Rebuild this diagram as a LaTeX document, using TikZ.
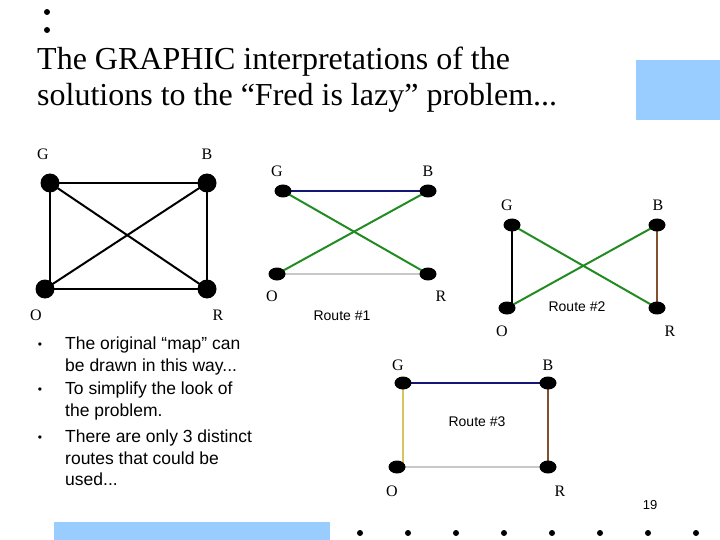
\documentclass[tikz,border=0pt]{standalone}
\usepackage{fontspec}
\setmainfont{Liberation Serif}
\setsansfont{Liberation Sans}
\usetikzlibrary{shapes.geometric}
\pgfdeclarelayer{edgelayer}
\pgfsetlayers{edgelayer,main}
\definecolor{slideblue}{RGB}{153,204,255}
\definecolor{navyedge}{RGB}{20,20,120}
\definecolor{greenedge}{RGB}{34,139,34}
\definecolor{grayedge}{RGB}{200,200,200}
\definecolor{brownedge}{RGB}{130,80,45}
\definecolor{yellowedge}{RGB}{215,195,95}
\tikzset{
  bigdot/.style={circle,fill=black,minimum size=19pt,inner sep=0pt},
  vdot/.style={ellipse,fill=black,minimum width=17pt,minimum height=13pt,inner sep=0pt},
  lbl/.style={font=\fontsize{16}{18}\selectfont},
  route/.style={font=\sffamily\fontsize{14}{16}\selectfont},
  edge/.style={line width=2pt},
  bul/.style={font=\sffamily\fontsize{17.5}{21.5}\selectfont,anchor=north west,align=left,inner sep=0pt},
  bulmark/.style={font=\sffamily\fontsize{12}{14}\selectfont,inner sep=0pt},
  smalldot/.style={circle,fill=black,minimum size=6pt,inner sep=0pt}
}
\begin{document}
\begin{tikzpicture}[x=1pt,y=-1pt]
\useasboundingbox (0,0) rectangle (720,540);
% decorations
\fill[slideblue] (636,60) rectangle (720,120);
\fill[slideblue] (54,522) rectangle (330,540);
\node[smalldot] (t1) at (47,12) {};
\node[smalldot] (t2) at (47,30) {};
\foreach \i/\x in {1/360,2/408,3/456,4/504,5/552,6/600,7/648,8/696}{
  \node[smalldot] (b\i) at (\x,533) {};
}
% title
\node[anchor=base west,inner sep=0pt,font=\fontsize{32}{36}\selectfont,align=left] (title) at (37,106)
  {The GRAPHIC interpretations of the\\solutions to the “Fred is lazy” problem...};
% graph 1
\node[bigdot] (g1) at (50,183) {};
\node[bigdot] (b1) at (207,183) {};
\node[bigdot] (o1) at (45,289) {};
\node[bigdot] (r1) at (207,289) {};
\begin{pgfonlayer}{edgelayer}
\draw[edge] (g1.center) -- (b1.center);
\draw[edge] (g1.center) -- (g1 |- o1.center);
\draw[edge] (g1.center) -- (r1.center);
\draw[edge] (b1.center) -- (o1.center);
\draw[edge] (b1.center) -- (r1.center);
\draw[edge] (o1.center) -- (r1.center);
\end{pgfonlayer}
\node[lbl] (lg1) at (43,154) {G};
\node[lbl] (lb1) at (207,154) {B};
\node[lbl] (lo1) at (36,315) {O};
\node[lbl] (lr1) at (218,315) {R};
% graph 2 (route 1)
\node[vdot] (g2) at (283,191) {};
\node[vdot] (b2) at (428,191) {};
\node[vdot] (o2) at (277,274) {};
\node[vdot] (r2) at (428,274) {};
\begin{pgfonlayer}{edgelayer}
\draw[edge,navyedge] (g2.center) -- (b2.center);
\draw[edge,greenedge] (g2.center) -- (r2.center);
\draw[edge,greenedge] (b2.center) -- (o2.center);
\draw[edge,grayedge] (o2.center) -- (r2.center);
\end{pgfonlayer}
\node[lbl] (lg2) at (277,171) {G};
\node[lbl] (lb2) at (428,171) {B};
\node[lbl] (lo2) at (272,296) {O};
\node[lbl] (lr2) at (441,296) {R};
\node[route] (rt1) at (342,316) {Route \#1};
% graph 3 (route 2)
\node[vdot] (g3) at (512,225) {};
\node[vdot] (b3) at (657,225) {};
\node[vdot] (o3) at (507,308) {};
\node[vdot] (r3) at (657,308) {};
\begin{pgfonlayer}{edgelayer}
\draw[edge] (g3.center) -- (g3 |- o3.center);
\draw[edge,greenedge] (g3.center) -- (r3.center);
\draw[edge,greenedge] (b3.center) -- (o3.center);
\draw[edge,brownedge] (b3.center) -- (r3.center);
\end{pgfonlayer}
\node[lbl] (lg3) at (507,205) {G};
\node[lbl] (lb3) at (658,205) {B};
\node[lbl] (lo3) at (502,331) {O};
\node[lbl] (lr3) at (670,331) {R};
\node[route] (rt2) at (577,307) {Route \#2};
% graph 4 (route 3)
\node[vdot] (g4) at (403,383) {};
\node[vdot] (b4) at (548,383) {};
\node[vdot] (o4) at (397,467) {};
\node[vdot] (r4) at (548,467) {};
\begin{pgfonlayer}{edgelayer}
\draw[edge,navyedge] (g4.center) -- (b4.center);
\draw[edge,yellowedge] (g4.center) -- (g4 |- o4.center);
\draw[edge,brownedge] (b4.center) -- (r4.center);
\draw[edge,grayedge] (o4.center) -- (r4.center);
\end{pgfonlayer}
\node[lbl] (lg4) at (398,365) {G};
\node[lbl] (lb4) at (548,365) {B};
\node[lbl] (lo4) at (392,491) {O};
\node[lbl] (lr4) at (560,491) {R};
\node[route] (rt3) at (477,422) {Route \#3};
% bullets
\node[bulmark] (m1) at (40,346) {•};
\node[bul] (p1) at (65,337) {The original “map” can\\be drawn in this way...};
\node[bulmark] (m2) at (40,391) {•};
\node[bul] (p2) at (65,382) {To simplify the look of\\the problem.};
\node[bulmark] (m3) at (40,439) {•};
\node[bul] (p3) at (65,430) {There are only 3 distinct\\routes that could be\\used...};
% page number
\node[route,font=\sffamily\fontsize{13}{15}\selectfont] (pg) at (650,505) {19};
\end{tikzpicture}
\end{document}
